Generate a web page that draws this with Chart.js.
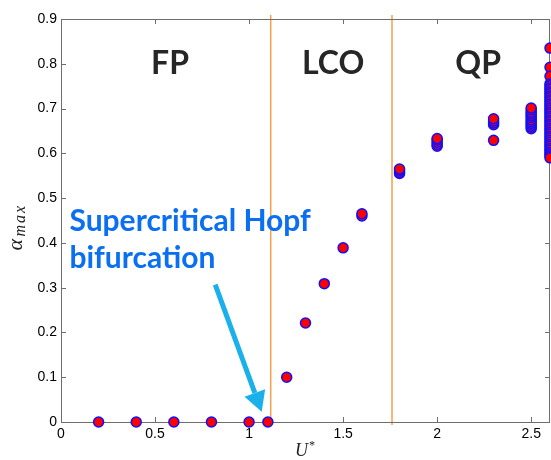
<!DOCTYPE html>
<html>
<head>
<meta charset="utf-8">
<script src="https://cdn.jsdelivr.net/npm/chart.js@4"></script>
<style>
  html, body { margin: 0; padding: 0; background: #fff; }
  #wrap { width: 551px; height: 460px; }
</style>
</head>
<body>
<div id="wrap"><canvas id="bifChart" width="551" height="460"></canvas></div>
<script>
// flow speed U* and max pitch amplitude
const uStar = [
  0.2, 0.4, 0.6, 0.8, 1.0, 1.1,
  1.2, 1.3, 1.4, 1.5, 1.6, 1.6,
  1.8, 1.8, 1.8, 1.8,
  2.0, 2.0, 2.0, 2.0, 2.0,
  2.3, 2.3, 2.3, 2.3, 2.3,
  2.5, 2.5, 2.5, 2.5, 2.5, 2.5, 2.5, 2.5, 2.5, 2.5, 2.5, 2.5,
  2.6, 2.6, 2.6, 2.6, 2.6, 2.6, 2.6, 2.6, 2.6, 2.6, 2.6, 2.6, 2.6, 2.6,
  2.6, 2.6, 2.6, 2.6, 2.6, 2.6, 2.6, 2.6, 2.6, 2.6, 2.6, 2.6, 2.6, 2.6,
  2.6, 2.6, 2.6, 2.6, 2.6, 2.6, 2.6, 2.6, 2.6, 2.6, 2.6, 2.6, 2.6
];
const alphaMax = [
  0, 0, 0, 0, 0, 0,
  0.100, 0.221, 0.309, 0.389, 0.460, 0.465,
  0.555, 0.558, 0.562, 0.565,
  0.616, 0.620, 0.625, 0.630, 0.633,
  0.629, 0.664, 0.668, 0.672, 0.677,
  0.655, 0.659, 0.663, 0.667, 0.671, 0.675, 0.680, 0.684, 0.688, 0.692, 0.697, 0.701,
  0.835, 0.792, 0.772, 0.755, 0.751, 0.746, 0.742, 0.737, 0.733, 0.728, 0.724, 0.719, 0.715, 0.710,
  0.706, 0.701, 0.697, 0.692, 0.688, 0.683, 0.679, 0.674, 0.670, 0.665, 0.661, 0.656, 0.652, 0.647,
  0.643, 0.638, 0.634, 0.629, 0.625, 0.620, 0.616, 0.611, 0.607, 0.602, 0.598, 0.594, 0.590
];
// regime boundaries (vertical orange lines) and labels
const boundaries = [1.115, 1.76];
const regimeLabels = ['FP', 'LCO', 'QP'];
const regimeLabelX = [0.58, 1.447, 2.218];
const regimeLabelY = 0.80;
const xTicks = [0, 0.5, 1, 1.5, 2, 2.5];
const yTicks = [0, 0.1, 0.2, 0.3, 0.4, 0.5, 0.6, 0.7, 0.8, 0.9];

const pts = uStar.map((u, i) => ({ x: u, y: alphaMax[i] }));

const frame = {
  id: 'frame',
  beforeDatasetsDraw(chart) {
    const { ctx, chartArea: a, scales: { x, y } } = chart;
    ctx.save();
    // orange regime lines
    ctx.strokeStyle = '#f5a04a';
    ctx.lineWidth = 1.5;
    boundaries.forEach(b => {
      const px = x.getPixelForValue(b);
      ctx.beginPath();
      ctx.moveTo(px, a.top - 4);
      ctx.lineTo(px, a.bottom + 3);
      ctx.stroke();
    });
    // box
    ctx.strokeStyle = '#6e6e6e';
    ctx.lineWidth = 1;
    ctx.strokeRect(a.left + 0.5, a.top + 0.5, a.right - a.left - 1, a.bottom - a.top);
    // inward ticks
    ctx.beginPath();
    xTicks.forEach(t => {
      const px = Math.round(x.getPixelForValue(t)) + 0.5;
      ctx.moveTo(px, a.bottom); ctx.lineTo(px, a.bottom - 5);
      ctx.moveTo(px, a.top); ctx.lineTo(px, a.top + 5);
    });
    yTicks.forEach(t => {
      const py = Math.round(y.getPixelForValue(t)) + 0.5;
      ctx.moveTo(a.left, py); ctx.lineTo(a.left + 5, py);
      ctx.moveTo(a.right, py); ctx.lineTo(a.right - 5, py);
    });
    ctx.stroke();
    ctx.restore();
  },
  afterDraw(chart) {
    const { ctx, chartArea: a, scales: { x, y } } = chart;
    ctx.save();
    // regime labels
    ctx.fillStyle = '#262626';
    ctx.font = 'bold 32px Lato';
    ctx.textAlign = 'center';
    ctx.textBaseline = 'middle';
    regimeLabels.forEach((t, i) => {
      ctx.fillText(t, x.getPixelForValue(regimeLabelX[i]), y.getPixelForValue(regimeLabelY));
    });
    // annotation text
    ctx.fillStyle = '#0a6ff0';
    ctx.font = 'bold 30px Lato';
    ctx.textAlign = 'left';
    ctx.textBaseline = 'alphabetic';
    ctx.fillText('Supercritical Hopf', x.getPixelForValue(0.045), y.getPixelForValue(0.4275));
    ctx.fillText('bifurcation', x.getPixelForValue(0.045), y.getPixelForValue(0.344));
    // arrow
    const x0 = x.getPixelForValue(0.82), y0 = y.getPixelForValue(0.307);
    const x1 = x.getPixelForValue(1.067), y1 = y.getPixelForValue(0.023);
    const ang = Math.atan2(y1 - y0, x1 - x0);
    const headLen = 20, headW = 11;
    const bx = x1 - headLen * Math.cos(ang), by = y1 - headLen * Math.sin(ang);
    ctx.strokeStyle = '#1ab0ea';
    ctx.fillStyle = '#1ab0ea';
    ctx.lineWidth = 5;
    ctx.beginPath();
    ctx.moveTo(x0, y0);
    ctx.lineTo(bx, by);
    ctx.stroke();
    ctx.beginPath();
    ctx.moveTo(x1, y1);
    ctx.lineTo(bx + headW * Math.sin(ang), by - headW * Math.cos(ang));
    ctx.lineTo(bx - headW * Math.sin(ang), by + headW * Math.cos(ang));
    ctx.closePath();
    ctx.fill();
    // axis titles
    ctx.fillStyle = '#222';
    ctx.textAlign = 'center';
    ctx.textBaseline = 'middle';
    ctx.font = 'italic 18px "Liberation Serif"';
    ctx.fillText('U', (a.left + a.right) / 2 - 4, 451);
    ctx.font = 'italic 12px "Liberation Serif"';
    ctx.fillText('*', (a.left + a.right) / 2 + 6, 446);
    ctx.translate(16, (a.top + a.bottom) / 2);
    ctx.rotate(-Math.PI / 2);
    ctx.textAlign = 'left';
    ctx.font = 'italic 22px "Liberation Serif"';
    ctx.fillText('α', -30, 0);
    ctx.font = 'italic 16px "Liberation Serif"';
    ctx.letterSpacing = '2px';
    ctx.fillText('max', -16, 5);
    ctx.restore();
  }
};

new Chart(document.getElementById('bifChart').getContext('2d'), {
  type: 'scatter',
  data: {
    datasets: [{
      data: pts,
      backgroundColor: '#ff0000',
      borderColor: '#1010ff',
      borderWidth: 1.5,
      pointRadius: 5,
      pointHoverRadius: 5,
      clip: false
    }]
  },
  options: {
    responsive: false,
    animation: false,
    events: [],
    layout: { autoPadding: false, padding: { top: 19, right: 1, left: 0, bottom: 0 } },
    plugins: { legend: { display: false }, tooltip: { enabled: false } },
    scales: {
      x: {
        type: 'linear',
        min: 0, max: 2.6,
        afterFit: s => { s.height = 38; s.paddingLeft = 0; s.paddingRight = 0; },
        afterBuildTicks: s => { s.ticks = xTicks.map(v => ({ value: v })); },
        grid: { display: false, drawTicks: false },
        border: { display: false },
        ticks: { color: '#000', font: { family: 'Liberation Sans', size: 14 }, padding: 4, maxRotation: 0, callback: v => String(v) }
      },
      y: {
        type: 'linear',
        min: 0, max: 0.9,
        afterFit: s => { s.width = 61; s.paddingTop = 0; s.paddingBottom = 0; },
        afterBuildTicks: s => { s.ticks = yTicks.map(v => ({ value: v })); },
        grid: { display: false, drawTicks: false },
        border: { display: false },
        ticks: { color: '#000', font: { family: 'Liberation Sans', size: 14 }, padding: 4, callback: v => String(v) }
      }
    }
  },
  plugins: [frame]
});
</script>
</body>
</html>
